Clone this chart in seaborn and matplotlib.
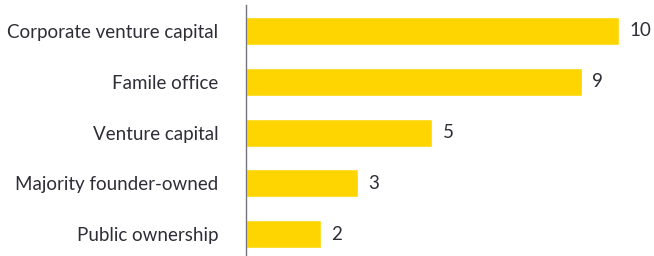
import matplotlib
matplotlib.use('Agg')
import matplotlib.pyplot as plt
import seaborn as sns
import pandas as pd

# Data
categories = ['Corporate venture capital', 'Famile office', 'Venture capital',
              'Majority founder-owned', 'Public ownership']
counts = [10, 9, 5, 3, 2]

df = pd.DataFrame({'category': categories, 'count': counts})

sns.set_style('white')
plt.rcParams['font.family'] = ['Lato', 'DejaVu Sans']

text_color = '#2e2e38'
bar_color = '#ffd500'

fig = plt.figure(figsize=(6.54, 2.56), dpi=100)
ax = fig.add_axes([246 / 654, 0, 408 / 654, 251 / 256])

sns.barplot(data=df, x='count', y='category', color=bar_color, width=0.55,
            saturation=1, ax=ax, orient='h')

ax.set_xlim(0, 10.94)
ax.set_ylim(4.43, -0.51)

# Value labels
for i, v in enumerate(counts):
    ax.text(v + 0.28, i, str(v), va='center', ha='left', fontsize=13.5, color=text_color)

ax.set_xlabel('')
ax.set_ylabel('')
ax.set_xticks([])
ax.tick_params(axis='y', length=0, pad=20, labelsize=13.5, labelcolor=text_color)
for side in ['top', 'right', 'bottom']:
    ax.spines[side].set_visible(False)
ax.spines['left'].set_color('#747480')
ax.spines['left'].set_linewidth(1)

fig.savefig('out.png', dpi=100)
